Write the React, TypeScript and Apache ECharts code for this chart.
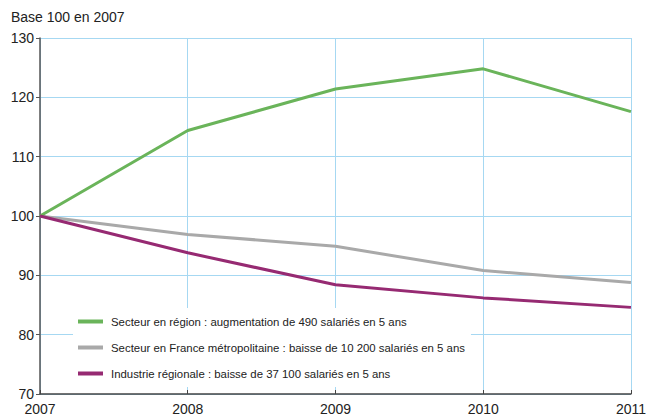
import React, { useEffect, useRef } from "react";
import * as echarts from "echarts";

const years = ["2007", "2008", "2009", "2010", "2011"];
const secteurRegion = [100, 114.4, 121.4, 124.8, 117.6];
const secteurFrance = [100, 96.9, 94.9, 90.8, 88.8];
const industrieRegion = [100, 93.8, 88.4, 86.2, 84.6];
const seriesNames = [
  "Secteur en région : augmentation de 490 salariés en 5 ans",
  "Secteur en France métropolitaine : baisse de 10 200 salariés en 5 ans",
  "Industrie régionale : baisse de 37 100 salariés en 5 ans",
];
const colors = ["#6ab45a", "#a9a9a9", "#962a72"];

export default function App() {
  const ref = useRef<HTMLDivElement>(null);
  useEffect(() => {
    if (!ref.current) return;
    const chart = echarts.init(ref.current, undefined, { renderer: "svg" });
    const font = "'Liberation Sans', Arial, sans-serif";
    chart.setOption({
      animation: false,
      backgroundColor: "#ffffff",
      textStyle: { fontFamily: font },
      title: {
        text: "Base 100 en 2007",
        left: 6,
        top: 5,
        textStyle: { fontSize: 14, fontWeight: "normal", color: "#222", fontFamily: font },
      },
      grid: { left: 40, right: 16, top: 38, bottom: 25, containLabel: false },
      xAxis: {
        type: "category",
        data: years,
        boundaryGap: false,
        axisLine: { lineStyle: { color: "#444", width: 1.5 } },
        axisTick: { show: true, length: 4, inside: true, lineStyle: { color: "#444" } },
        axisLabel: { fontSize: 14, color: "#222", margin: 8, fontFamily: font },
        splitLine: { show: true, lineStyle: { color: "#a6d8f2", width: 1 } },
      },
      yAxis: {
        type: "value",
        min: 70,
        max: 130,
        interval: 10,
        axisLine: { show: true, lineStyle: { color: "#555", width: 1.5 } },
        axisTick: { show: true, length: 4, lineStyle: { color: "#555" } },
        axisLabel: { fontSize: 14, color: "#222", margin: 6, fontFamily: font },
        splitLine: { show: true, lineStyle: { color: "#a6d8f2", width: 1 } },
      },
      legend: {
        orient: "vertical",
        left: 73,
        top: 308,
        padding: [8, 6, 8, 5],
        itemGap: 15,
        itemWidth: 25,
        itemHeight: 4,
        icon: "rect",
        backgroundColor: "#ffffff",
        data: seriesNames,
        textStyle: { fontSize: 11.4, color: "#222", fontFamily: font, padding: [0, 0, 0, 3] },
      },
      series: [
        { name: seriesNames[0], type: "line", data: secteurRegion, symbol: "none", z: 3, lineStyle: { width: 3, color: colors[0] }, itemStyle: { color: colors[0] } },
        { name: seriesNames[1], type: "line", data: secteurFrance, symbol: "none", z: 2, lineStyle: { width: 3, color: colors[1] }, itemStyle: { color: colors[1] } },
        { name: seriesNames[2], type: "line", data: industrieRegion, symbol: "none", z: 4, lineStyle: { width: 3, color: colors[2] }, itemStyle: { color: colors[2] } },
      ],
    });
    return () => chart.dispose();
  }, []);
  return <div ref={ref} style={{ width: 649, height: 419, position: "fixed", left: 0, top: 0 }} />;
}
